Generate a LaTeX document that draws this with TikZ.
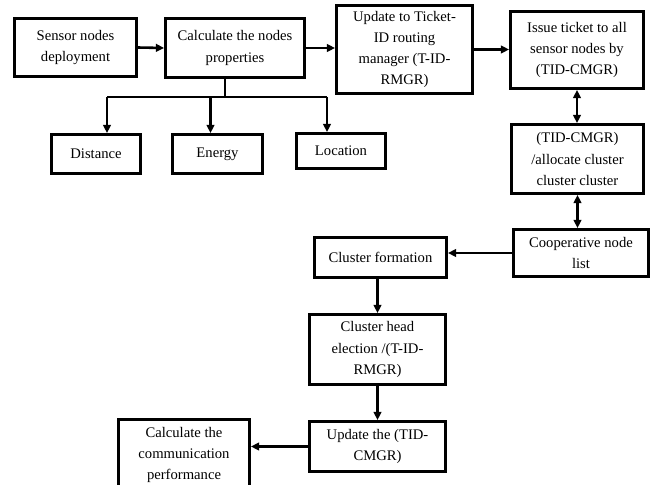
\documentclass[tikz,border=0pt]{standalone}
\usepackage{fontspec}
\setmainfont{Liberation Serif}
\usetikzlibrary{arrows.meta,calc}

\begin{document}
\begin{tikzpicture}[x=0.03cm,y=-0.03cm,>={Triangle[length=7pt,width=6.5pt]}]
\tikzstyle{every node}=[font=\fontsize{12.5}{18}\selectfont]
\tikzstyle{box}=[draw,line width=2.4pt,align=center,inner sep=2pt]
\tikzstyle{link}=[line width=2.2pt]
\useasboundingbox (0,0) rectangle (652,485);

\node[box,minimum width=3.66cm,minimum height=1.74cm] (deploy) at (75.5,47.5) {Sensor nodes\\deployment};
\node[box,minimum width=4.17cm,minimum height=1.77cm] (calc) at (235,48) {Calculate the nodes\\properties};
\node[box,minimum width=4.08cm,minimum height=2.64cm] (update) at (404.5,49.5) {Update to Ticket-\\ID routing\\manager (T-ID-\\RMGR)};
\node[box,minimum width=3.99cm,minimum height=2.31cm] (issue) at (577,50) {Issue ticket to all\\sensor nodes by\\(TID-CMGR)};

\node[box,minimum width=2.67cm,minimum height=1.17cm] (dist) at (96,154) {Distance};
\node[box,minimum width=2.7cm,minimum height=1.17cm] (energy) at (217.5,154) {Energy};
\node[box,minimum width=2.67cm,minimum height=1.05cm] (location) at (341,151) {Location};

\node[box,minimum width=3.96cm,minimum height=2.07cm] (alloc) at (577.5,159) {(TID-CMGR)\\/allocate cluster\\cluster cluster};
\node[box,minimum width=4.05cm,minimum height=1.41cm] (coop) at (581,253) {Cooperative node\\list};
\node[box,minimum width=3.96cm,minimum height=1.2cm] (formation) at (380.5,257.5) {Cluster formation};
\node[box,minimum width=4.08cm,minimum height=2.1cm] (head) at (377.5,349.5) {Cluster head\\election /(T-ID-\\RMGR)};
\node[box,minimum width=4.08cm,minimum height=1.5cm] (updtid) at (377.5,446.5) {Update the (TID-\\CMGR)};
\node[box,minimum width=3.93cm,minimum height=2.13cm] (perf) at (184,455) {Calculate the\\communication\\performance};

% top row
\draw[link,->] (deploy.east) -- (calc.west);
\draw[link,->] (calc.east) -- (calc.east -| update.west);
\draw[link,->] (update.east) -- (update.east -| issue.west);

% properties
\coordinate (split) at (225,97);
\coordinate (dtop) at ($(dist.north)+(11,0)$);
\coordinate (etop) at ($(energy.north)+(-7,0)$);
\coordinate (ltop) at ($(location.north)+(-14,0)$);
\draw[link] (calc.south -| split) -- (split);
\draw[link] (dtop |- split) -- (ltop |- split);
\draw[link,->] (dtop |- split) -- (dtop);
\draw[link,->] (etop |- split) -- (etop);
\draw[link,->] (ltop |- split) -- (ltop);

% right column
\draw[link,<->] (issue.south) -- (issue.south |- alloc.north);
\draw[link,<->] (alloc.south) -- (alloc.south |- coop.north);
\draw[link,->] (coop.west) -- (coop.west -| formation.east);

% clusters
\draw[link,->] (head.north |- formation.south) -- (head.north);
\draw[link,->] (head.south) -- (updtid.north);
\draw[link,->] (updtid.west) -- (updtid.west -| perf.east);

\end{tikzpicture}
\end{document}
